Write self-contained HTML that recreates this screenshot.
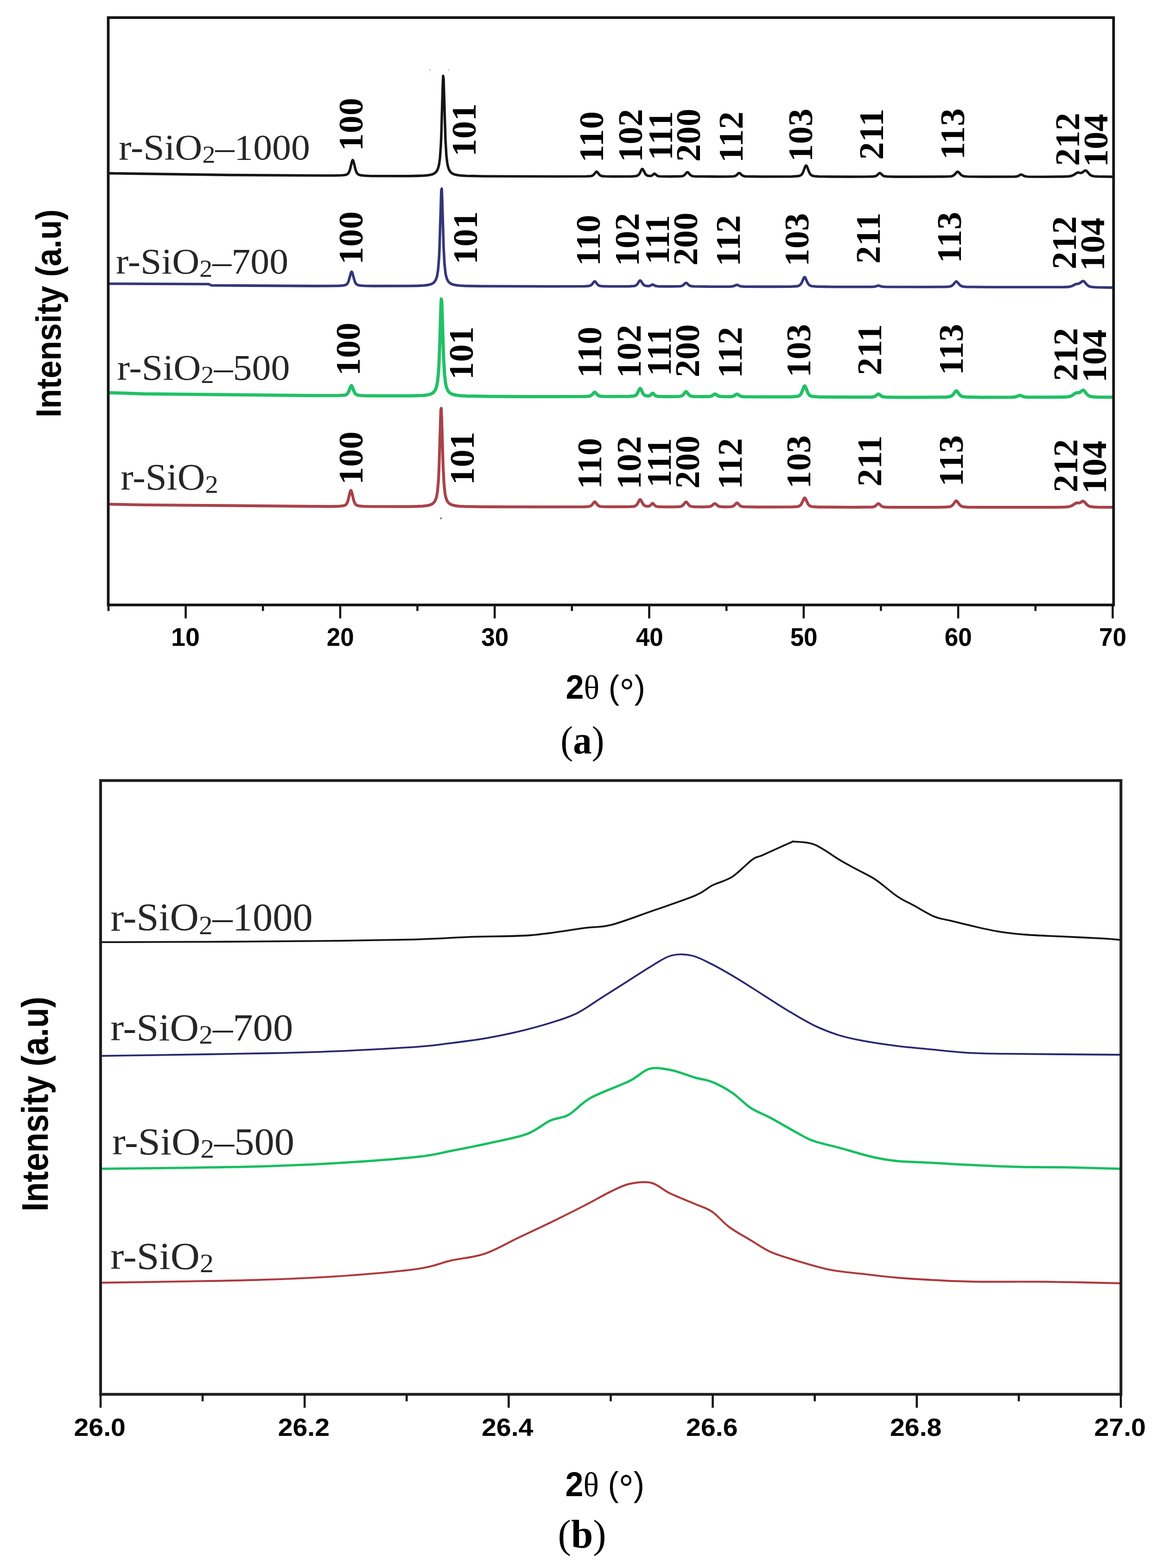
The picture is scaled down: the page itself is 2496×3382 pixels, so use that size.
<!DOCTYPE html><html><head><meta charset="utf-8"><title>XRD patterns of r-SiO2 samples</title><style>
html,body{margin:0;padding:0;background:#fff;}svg{display:block;}
.sans{font-family:"Liberation Sans",Arial,sans-serif;font-weight:bold;}
.serif{font-family:"Liberation Serif","Times New Roman",serif;}
</style></head><body>
<svg width="2496" height="3382" viewBox="0 0 2496 3382">
<rect width="2496" height="3382" fill="#fff"/>
<path d="M236.0 373.8 L500.0 377.5 L694.0 378.6 L722.0 378.5 L737.0 378.1 L743.0 377.6 L747.0 376.8 L750.0 375.2 L752.0 373.0 L754.0 368.8 L755.0 365.9 L759.0 349.5 L760.0 346.5 L761.0 345.3 L762.0 346.5 L763.0 349.6 L767.0 366.0 L769.0 371.4 L770.0 373.2 L772.0 375.5 L774.0 376.8 L778.0 378.0 L786.0 378.9 L800.0 379.6 L882.0 379.7 L902.0 379.3 L915.0 378.8 L924.0 377.9 L931.0 376.5 L935.0 375.1 L938.0 373.3 L941.0 370.5 L943.0 367.6 L945.0 363.1 L947.0 355.8 L949.0 342.1 L951.0 314.5 L952.0 291.7 L955.0 186.4 L956.0 163.7 L957.0 169.8 L961.0 301.7 L963.0 335.8 L965.0 352.6 L966.0 357.6 L968.0 364.2 L970.0 368.3 L972.0 371.0 L975.0 373.7 L978.0 375.3 L982.0 376.7 L988.0 377.9 L996.0 378.8 L1007.0 379.4 L1043.0 380.1 L1197.0 380.6 L1265.0 380.4 L1274.0 379.9 L1278.0 378.8 L1281.0 376.6 L1285.0 371.6 L1286.0 370.6 L1287.0 370.3 L1288.0 370.6 L1289.0 371.6 L1292.0 375.5 L1294.0 377.6 L1297.0 379.3 L1300.0 380.0 L1307.0 380.4 L1320.0 380.7 L1362.0 380.5 L1371.0 379.9 L1374.0 379.2 L1376.0 378.3 L1378.0 376.7 L1380.0 373.9 L1384.0 365.9 L1385.0 364.7 L1386.0 364.4 L1387.0 365.3 L1388.0 367.0 L1392.0 374.8 L1394.0 377.2 L1397.0 378.9 L1401.0 379.6 L1404.0 379.4 L1406.0 378.8 L1408.0 377.5 L1411.0 374.9 L1412.0 374.6 L1413.0 375.0 L1418.0 379.1 L1420.0 379.9 L1423.0 380.4 L1447.0 380.8 L1469.0 380.3 L1472.0 379.9 L1475.0 378.7 L1477.0 377.2 L1481.0 372.6 L1482.0 371.7 L1483.0 371.4 L1484.0 371.7 L1485.0 372.6 L1489.0 377.2 L1491.0 378.7 L1495.0 380.1 L1501.0 380.6 L1552.0 381.0 L1572.0 380.8 L1581.0 380.5 L1584.0 380.1 L1587.0 379.0 L1589.0 377.7 L1593.0 373.8 L1594.0 373.2 L1595.0 373.1 L1596.0 373.5 L1600.0 377.3 L1602.0 378.8 L1605.0 380.0 L1609.0 380.5 L1643.0 381.0 L1708.0 380.7 L1722.0 379.8 L1725.0 379.1 L1728.0 377.7 L1730.0 375.7 L1732.0 372.5 L1737.0 359.4 L1738.0 357.6 L1739.0 356.9 L1740.0 357.6 L1741.0 359.4 L1746.0 372.5 L1749.0 376.8 L1752.0 378.8 L1755.0 379.6 L1760.0 380.3 L1767.0 380.7 L1788.0 381.0 L1831.0 381.2 L1868.0 381.1 L1883.0 380.8 L1887.0 380.3 L1890.0 379.4 L1892.0 378.1 L1896.0 374.3 L1897.0 373.5 L1898.0 373.3 L1899.0 373.5 L1900.0 374.3 L1904.0 378.1 L1906.0 379.4 L1909.0 380.3 L1914.0 380.8 L1930.0 381.2 L1970.0 381.3 L2043.0 380.9 L2051.0 380.4 L2054.0 379.8 L2056.0 379.0 L2059.0 376.9 L2064.0 371.4 L2065.0 370.6 L2066.0 370.4 L2067.0 370.6 L2068.0 371.4 L2073.0 376.9 L2076.0 379.0 L2080.0 380.3 L2087.0 380.9 L2126.0 381.3 L2188.0 381.1 L2192.0 380.8 L2195.0 380.2 L2197.0 379.4 L2201.0 377.0 L2203.0 376.4 L2205.0 377.0 L2209.0 379.4 L2211.0 380.2 L2217.0 381.1 L2250.0 381.4 L2293.0 381.0 L2305.0 380.5 L2311.0 379.5 L2316.0 377.5 L2322.0 373.5 L2324.0 372.5 L2326.0 372.2 L2331.0 373.1 L2333.0 372.9 L2336.0 371.3 L2340.0 368.0 L2342.0 367.5 L2344.0 368.6 L2351.0 376.5 L2354.0 378.5 L2357.0 379.6 L2362.0 380.4 L2369.0 380.8 L2400.0 381.3" fill="none" stroke="#151515" stroke-width="5.4" stroke-linejoin="round"/>
<path d="M236.0 612.0 L450.0 612.8 L456.0 615.5 L680.0 616.9 L716.0 616.8 L733.0 616.4 L740.0 615.8 L744.0 615.1 L747.0 613.8 L749.0 612.1 L751.0 608.9 L752.0 606.6 L757.0 588.6 L758.0 586.5 L759.0 586.2 L760.0 588.1 L765.0 606.0 L767.0 610.5 L768.0 611.9 L770.0 613.7 L772.0 614.7 L776.0 615.7 L786.0 616.5 L804.0 616.9 L886.0 616.8 L902.0 616.4 L914.0 615.8 L922.0 614.9 L928.0 613.6 L932.0 612.0 L935.0 610.1 L938.0 607.0 L940.0 603.7 L942.0 598.6 L943.0 594.9 L945.0 582.8 L947.0 558.5 L948.0 538.4 L952.0 409.9 L953.0 406.9 L954.0 431.4 L957.0 533.5 L959.0 570.4 L961.0 588.6 L962.0 594.0 L964.0 601.0 L966.0 605.3 L968.0 608.1 L971.0 610.8 L974.0 612.5 L978.0 613.9 L984.0 615.1 L992.0 616.0 L1003.0 616.6 L1041.0 617.3 L1190.0 617.7 L1261.0 617.5 L1270.0 616.9 L1274.0 615.8 L1277.0 613.5 L1281.0 608.2 L1282.0 607.2 L1283.0 606.9 L1284.0 607.2 L1285.0 608.2 L1288.0 612.4 L1290.0 614.5 L1293.0 616.3 L1296.0 617.0 L1302.0 617.4 L1314.0 617.7 L1357.0 617.6 L1367.0 617.0 L1370.0 616.4 L1372.0 615.5 L1375.0 612.8 L1379.0 606.5 L1380.0 605.4 L1381.0 604.9 L1382.0 605.4 L1383.0 606.5 L1387.0 612.8 L1389.0 614.8 L1392.0 616.3 L1397.0 617.0 L1400.0 616.9 L1402.0 616.5 L1407.0 613.9 L1408.0 613.8 L1409.0 614.0 L1414.0 616.8 L1419.0 617.6 L1446.0 617.9 L1466.0 617.5 L1469.0 617.2 L1472.0 616.2 L1474.0 615.0 L1478.0 611.1 L1479.0 610.4 L1480.0 610.1 L1481.0 610.4 L1482.0 611.1 L1486.0 615.0 L1488.0 616.3 L1492.0 617.4 L1498.0 617.8 L1532.0 618.2 L1575.0 618.1 L1579.0 617.8 L1582.0 617.3 L1589.0 614.4 L1591.0 614.6 L1595.0 616.6 L1598.0 617.5 L1605.0 618.1 L1660.0 618.4 L1705.0 618.2 L1719.0 617.4 L1722.0 616.8 L1725.0 615.4 L1728.0 612.3 L1730.0 608.8 L1734.0 599.4 L1735.0 598.0 L1736.0 597.6 L1737.0 598.5 L1738.0 600.2 L1741.0 607.5 L1743.0 611.4 L1746.0 615.0 L1749.0 616.6 L1752.0 617.3 L1764.0 618.2 L1802.0 618.7 L1879.0 618.7 L1887.0 618.2 L1895.0 615.9 L1903.0 618.2 L1911.0 618.8 L2002.0 619.0 L2040.0 618.7 L2048.0 618.1 L2051.0 617.4 L2053.0 616.6 L2056.0 614.3 L2061.0 608.3 L2062.0 607.5 L2063.0 607.2 L2064.0 607.5 L2065.0 608.3 L2070.0 614.3 L2073.0 616.6 L2077.0 618.0 L2084.0 618.7 L2132.0 619.2 L2294.0 619.3 L2304.0 618.9 L2310.0 617.8 L2314.0 616.3 L2321.0 612.7 L2327.0 611.8 L2329.0 611.1 L2335.0 606.6 L2337.0 606.1 L2339.0 607.2 L2344.0 613.2 L2347.0 616.0 L2350.0 617.7 L2353.0 618.6 L2358.0 619.3 L2367.0 619.8 L2400.0 620.4" fill="none" stroke="#34367a" stroke-width="5.6" stroke-linejoin="round"/>
<path d="M236.0 847.0 L310.0 849.5 L680.0 853.3 L732.0 853.1 L743.0 852.3 L746.0 851.6 L748.0 850.5 L750.0 848.5 L751.0 847.0 L753.0 842.7 L756.0 834.5 L757.0 832.5 L758.0 831.7 L759.0 832.5 L760.0 834.5 L764.0 845.1 L766.0 848.6 L767.0 849.7 L769.0 851.2 L771.0 852.0 L775.0 852.7 L785.0 853.4 L804.0 853.7 L885.0 853.8 L912.0 853.0 L920.0 852.1 L926.0 850.9 L930.0 849.6 L933.0 848.0 L936.0 845.4 L938.0 842.8 L940.0 839.0 L942.0 833.0 L944.0 822.5 L946.0 802.2 L947.0 785.6 L949.0 733.7 L951.0 665.0 L952.0 645.0 L953.0 650.4 L957.0 772.9 L959.0 807.5 L961.0 825.2 L962.0 830.6 L964.0 837.6 L966.0 842.0 L968.0 844.9 L971.0 847.7 L975.0 850.0 L979.0 851.3 L985.0 852.5 L994.0 853.5 L1007.0 854.2 L1055.0 855.0 L1129.0 855.4 L1260.0 855.2 L1269.0 854.8 L1274.0 853.7 L1277.0 851.7 L1281.0 847.1 L1282.0 846.3 L1283.0 845.9 L1284.0 846.3 L1285.0 847.1 L1288.0 850.7 L1290.0 852.5 L1293.0 854.0 L1296.0 854.7 L1303.0 855.1 L1316.0 855.3 L1357.0 855.0 L1367.0 854.2 L1370.0 853.4 L1372.0 852.2 L1375.0 848.5 L1379.0 840.1 L1380.0 838.5 L1381.0 837.9 L1382.0 838.5 L1383.0 840.1 L1387.0 848.5 L1389.0 851.2 L1392.0 853.2 L1396.0 854.0 L1399.0 854.0 L1402.0 853.1 L1404.0 851.6 L1407.0 848.5 L1408.0 848.2 L1409.0 848.6 L1412.0 851.8 L1414.0 853.4 L1416.0 854.3 L1419.0 854.9 L1428.0 855.3 L1444.0 855.4 L1458.0 855.3 L1466.0 854.9 L1469.0 854.4 L1472.0 853.1 L1474.0 851.4 L1478.0 846.1 L1479.0 845.1 L1480.0 844.7 L1481.0 845.1 L1482.0 846.1 L1486.0 851.4 L1488.0 853.1 L1490.0 854.1 L1492.0 854.7 L1498.0 855.3 L1518.0 855.6 L1531.0 855.2 L1535.0 854.2 L1537.0 853.2 L1541.0 850.3 L1543.0 849.9 L1544.0 850.3 L1549.0 853.8 L1553.0 855.1 L1562.0 855.6 L1576.0 855.5 L1579.0 855.2 L1582.0 854.5 L1584.0 853.6 L1588.0 850.7 L1590.0 850.0 L1592.0 850.7 L1596.0 853.6 L1598.0 854.6 L1601.0 855.3 L1605.0 855.7 L1653.0 856.1 L1706.0 855.9 L1719.0 855.0 L1722.0 854.4 L1725.0 852.9 L1727.0 851.0 L1729.0 847.8 L1734.0 835.0 L1735.0 833.1 L1736.0 832.4 L1737.0 833.1 L1738.0 835.0 L1743.0 847.8 L1745.0 851.0 L1747.0 853.0 L1750.0 854.4 L1753.0 855.1 L1765.0 856.0 L1826.0 856.6 L1865.0 856.6 L1880.0 856.4 L1884.0 856.0 L1887.0 855.2 L1889.0 854.1 L1893.0 850.7 L1895.0 849.8 L1897.0 850.7 L1901.0 854.1 L1903.0 855.2 L1906.0 856.1 L1911.0 856.5 L1933.0 856.9 L1977.0 856.9 L2021.0 856.8 L2040.0 856.4 L2048.0 855.7 L2051.0 854.9 L2053.0 853.9 L2056.0 851.2 L2061.0 844.2 L2062.0 843.3 L2063.0 843.0 L2064.0 843.3 L2065.0 844.2 L2070.0 851.2 L2073.0 853.9 L2077.0 855.5 L2084.0 856.3 L2117.0 856.9 L2183.0 856.7 L2191.0 855.9 L2198.0 853.3 L2200.0 852.9 L2202.0 853.3 L2209.0 855.9 L2216.0 856.6 L2252.0 856.8 L2291.0 856.5 L2303.0 855.9 L2309.0 854.7 L2313.0 852.9 L2321.0 847.6 L2323.0 847.1 L2327.0 847.0 L2329.0 846.5 L2331.0 845.3 L2335.0 842.1 L2337.0 841.6 L2339.0 842.9 L2344.0 849.4 L2347.0 852.4 L2350.0 854.2 L2353.0 855.2 L2358.0 855.9 L2367.0 856.4 L2400.0 856.8" fill="none" stroke="#22c066" stroke-width="7" stroke-linejoin="round"/>
<path d="M236.0 1087.5 L310.0 1089.0 L673.0 1092.1 L713.0 1092.3 L732.0 1091.9 L739.0 1091.2 L743.0 1090.3 L746.0 1088.7 L748.0 1086.3 L750.0 1082.1 L751.0 1079.0 L755.0 1062.1 L756.0 1059.0 L757.0 1057.8 L758.0 1059.0 L759.0 1062.1 L763.0 1079.0 L765.0 1084.5 L766.0 1086.4 L768.0 1088.7 L770.0 1090.0 L774.0 1091.1 L783.0 1092.1 L800.0 1092.5 L882.0 1092.6 L900.0 1092.2 L912.0 1091.6 L921.0 1090.6 L927.0 1089.3 L931.0 1087.7 L934.0 1085.8 L937.0 1082.7 L939.0 1079.4 L941.0 1074.2 L942.0 1070.4 L944.0 1058.2 L946.0 1033.7 L947.0 1013.4 L951.0 883.7 L952.0 880.7 L953.0 905.4 L956.0 1008.5 L958.0 1045.7 L960.0 1064.1 L961.0 1069.6 L963.0 1076.6 L965.0 1080.9 L967.0 1083.8 L970.0 1086.5 L973.0 1088.2 L977.0 1089.6 L983.0 1090.9 L991.0 1091.8 L1003.0 1092.4 L1043.0 1093.1 L1172.0 1093.4 L1261.0 1093.1 L1270.0 1092.6 L1274.0 1091.4 L1277.0 1089.1 L1281.0 1083.8 L1282.0 1082.8 L1283.0 1082.4 L1284.0 1082.8 L1285.0 1083.8 L1288.0 1087.9 L1290.0 1090.1 L1293.0 1091.8 L1296.0 1092.5 L1303.0 1093.0 L1315.0 1093.2 L1357.0 1093.0 L1367.0 1092.3 L1370.0 1091.5 L1372.0 1090.4 L1375.0 1087.1 L1379.0 1079.4 L1380.0 1077.9 L1381.0 1077.4 L1382.0 1077.9 L1383.0 1079.3 L1387.0 1087.0 L1389.0 1089.5 L1392.0 1091.3 L1396.0 1092.0 L1399.0 1092.0 L1402.0 1090.9 L1404.0 1089.3 L1407.0 1086.0 L1408.0 1085.7 L1409.0 1086.1 L1412.0 1089.5 L1414.0 1091.3 L1416.0 1092.2 L1419.0 1092.8 L1428.0 1093.2 L1444.0 1093.3 L1458.0 1093.2 L1466.0 1092.8 L1469.0 1092.3 L1472.0 1090.9 L1474.0 1089.2 L1478.0 1083.9 L1479.0 1082.9 L1480.0 1082.6 L1481.0 1082.9 L1482.0 1083.9 L1486.0 1089.2 L1488.0 1091.0 L1490.0 1092.0 L1492.0 1092.5 L1498.0 1093.1 L1519.0 1093.3 L1531.0 1092.7 L1535.0 1091.3 L1540.0 1087.0 L1542.0 1086.1 L1544.0 1087.0 L1549.0 1091.3 L1553.0 1092.7 L1563.0 1093.3 L1576.0 1093.0 L1579.0 1092.6 L1582.0 1091.5 L1584.0 1090.1 L1588.0 1085.8 L1589.0 1085.0 L1590.0 1084.7 L1591.0 1085.0 L1592.0 1085.8 L1596.0 1090.2 L1598.0 1091.6 L1601.0 1092.7 L1605.0 1093.2 L1638.0 1093.7 L1706.0 1093.5 L1719.0 1092.8 L1722.0 1092.3 L1725.0 1091.1 L1727.0 1089.5 L1729.0 1086.8 L1734.0 1076.1 L1735.0 1074.5 L1736.0 1074.0 L1737.0 1074.6 L1738.0 1076.1 L1743.0 1086.8 L1745.0 1089.5 L1747.0 1091.1 L1750.0 1092.3 L1753.0 1092.9 L1765.0 1093.6 L1839.0 1094.1 L1880.0 1093.7 L1884.0 1093.3 L1887.0 1092.3 L1889.0 1091.0 L1893.0 1087.2 L1894.0 1086.5 L1895.0 1086.2 L1896.0 1086.5 L1897.0 1087.2 L1901.0 1091.1 L1903.0 1092.3 L1906.0 1093.3 L1911.0 1093.8 L1930.0 1094.2 L1976.0 1094.2 L2021.0 1094.1 L2040.0 1093.7 L2048.0 1093.0 L2051.0 1092.2 L2053.0 1091.2 L2056.0 1088.5 L2061.0 1081.5 L2062.0 1080.6 L2063.0 1080.3 L2064.0 1080.6 L2065.0 1081.5 L2069.0 1087.3 L2071.0 1089.6 L2074.0 1091.8 L2076.0 1092.6 L2079.0 1093.2 L2087.0 1093.8 L2119.0 1094.2 L2224.0 1094.2 L2276.0 1094.1 L2298.0 1093.6 L2304.0 1093.1 L2309.0 1092.0 L2313.0 1090.3 L2321.0 1085.1 L2323.0 1084.7 L2327.0 1084.9 L2329.0 1084.6 L2331.0 1083.8 L2334.0 1081.8 L2336.0 1080.9 L2337.0 1080.9 L2339.0 1082.1 L2344.0 1087.7 L2347.0 1090.3 L2350.0 1091.9 L2353.0 1092.7 L2358.0 1093.3 L2367.0 1093.8 L2400.0 1094.2" fill="none" stroke="#a8434a" stroke-width="6.2" stroke-linejoin="round"/>
<rect x="233.5" y="38" width="2168.8" height="1266.8" fill="none" stroke="#141414" stroke-width="5.8"/>
<line x1="234.0" y1="1304.8" x2="234.0" y2="1317.8" stroke="#151515" stroke-width="4.6"/>
<line x1="400.6" y1="1304.8" x2="400.6" y2="1333.8" stroke="#151515" stroke-width="4.6"/>
<line x1="567.2" y1="1304.8" x2="567.2" y2="1317.8" stroke="#151515" stroke-width="4.6"/>
<line x1="733.9" y1="1304.8" x2="733.9" y2="1333.8" stroke="#151515" stroke-width="4.6"/>
<line x1="900.5" y1="1304.8" x2="900.5" y2="1317.8" stroke="#151515" stroke-width="4.6"/>
<line x1="1067.2" y1="1304.8" x2="1067.2" y2="1333.8" stroke="#151515" stroke-width="4.6"/>
<line x1="1233.8" y1="1304.8" x2="1233.8" y2="1317.8" stroke="#151515" stroke-width="4.6"/>
<line x1="1400.5" y1="1304.8" x2="1400.5" y2="1333.8" stroke="#151515" stroke-width="4.6"/>
<line x1="1567.2" y1="1304.8" x2="1567.2" y2="1317.8" stroke="#151515" stroke-width="4.6"/>
<line x1="1733.8" y1="1304.8" x2="1733.8" y2="1333.8" stroke="#151515" stroke-width="4.6"/>
<line x1="1900.4" y1="1304.8" x2="1900.4" y2="1317.8" stroke="#151515" stroke-width="4.6"/>
<line x1="2067.1" y1="1304.8" x2="2067.1" y2="1333.8" stroke="#151515" stroke-width="4.6"/>
<line x1="2233.8" y1="1304.8" x2="2233.8" y2="1317.8" stroke="#151515" stroke-width="4.6"/>
<line x1="2400.4" y1="1304.8" x2="2400.4" y2="1333.8" stroke="#151515" stroke-width="4.6"/>
<path d="M217.0 2032.2 C255.8 2032.0 372.3 2031.7 450.0 2031.3 C527.7 2030.9 608.8 2030.5 683.0 2029.7 C757.2 2028.9 838.9 2027.8 895.0 2026.3 C951.1 2024.8 977.9 2022.1 1019.9 2020.6 C1061.9 2019.0 1106.5 2020.2 1147.0 2017.0 C1187.5 2013.8 1234.5 2005.0 1263.0 2001.4 C1291.5 1997.8 1293.5 2001.4 1317.7 1995.2 C1342.0 1989.0 1378.1 1974.9 1408.5 1964.3 C1438.9 1953.7 1478.7 1940.7 1500.0 1931.6 C1521.3 1922.5 1523.0 1916.7 1536.3 1909.9 C1549.6 1903.1 1565.4 1900.4 1579.9 1891.0 C1594.4 1881.6 1612.6 1861.3 1623.5 1853.6 C1634.4 1845.8 1632.0 1850.4 1645.3 1844.5 C1658.6 1838.6 1691.9 1823.1 1703.4 1818.3 C1714.9 1813.5 1705.2 1814.8 1714.3 1815.4 C1723.4 1816.0 1741.6 1815.3 1757.9 1822.0 C1774.2 1828.7 1797.3 1846.5 1812.4 1855.4 C1827.5 1864.3 1836.0 1868.5 1848.7 1875.4 C1861.4 1882.4 1874.1 1887.4 1888.6 1897.1 C1903.1 1906.8 1921.9 1924.1 1935.8 1933.5 C1949.7 1942.9 1958.9 1946.2 1972.2 1953.4 C1985.5 1960.7 2002.4 1971.5 2015.7 1977.0 C2029.0 1982.5 2039.6 1983.0 2052.0 1986.1 C2064.4 1989.2 2073.4 1991.6 2090.0 1995.4 C2106.6 1999.2 2131.1 2005.4 2151.7 2008.8 C2172.3 2012.2 2189.5 2014.1 2213.5 2016.0 C2237.5 2017.9 2268.4 2018.7 2295.8 2020.1 C2323.2 2021.5 2357.6 2023.0 2378.0 2024.2 C2398.4 2025.4 2411.3 2026.8 2418.0 2027.3" fill="none" stroke="#141414" stroke-width="3.8" stroke-linejoin="round"/>
<path d="M217.0 2277.5 C235.3 2277.2 264.8 2276.8 327.0 2275.8 C389.2 2274.8 523.6 2272.9 590.0 2271.5 C656.4 2270.1 673.8 2269.6 725.5 2267.3 C777.2 2265.0 858.8 2260.8 900.0 2257.9 C941.2 2255.0 948.4 2252.9 972.6 2249.9 C996.8 2246.9 1021.1 2243.9 1045.3 2239.8 C1069.5 2235.7 1093.7 2230.9 1117.9 2225.2 C1142.1 2219.4 1169.4 2212.0 1190.6 2205.3 C1211.8 2198.7 1226.8 2194.4 1245.0 2185.3 C1263.2 2176.2 1281.3 2162.3 1299.5 2150.8 C1317.7 2139.3 1335.8 2127.8 1354.0 2116.3 C1372.2 2104.8 1392.8 2091.0 1408.5 2081.8 C1424.2 2072.6 1434.5 2064.5 1448.4 2061.0 C1462.3 2057.5 1477.3 2057.8 1492.0 2061.0 C1506.7 2064.2 1519.8 2071.7 1536.3 2080.0 C1552.8 2088.3 1572.6 2099.9 1590.8 2110.8 C1609.0 2121.7 1627.1 2133.8 1645.3 2145.3 C1663.5 2156.8 1681.6 2168.9 1699.8 2179.8 C1718.0 2190.7 1736.0 2201.9 1754.2 2210.7 C1772.4 2219.5 1790.5 2226.8 1808.7 2232.5 C1826.9 2238.2 1842.0 2241.3 1863.2 2245.2 C1884.4 2249.1 1911.6 2253.1 1935.8 2256.1 C1960.0 2259.1 1982.8 2260.9 2008.5 2263.4 C2034.2 2265.9 2062.7 2269.3 2090.0 2270.9 C2117.3 2272.5 2117.6 2272.2 2172.3 2272.9 C2227.0 2273.6 2377.1 2274.7 2418.0 2275.0" fill="none" stroke="#28286e" stroke-width="3.8" stroke-linejoin="round"/>
<path d="M217.0 2521.0 C245.2 2520.7 330.0 2519.8 386.5 2519.0 C443.0 2518.2 499.5 2517.7 556.0 2516.0 C612.5 2514.3 668.2 2512.3 725.5 2508.8 C782.8 2505.3 858.8 2499.6 900.0 2495.2 C941.2 2490.8 947.2 2487.3 972.6 2482.5 C998.0 2477.7 1025.2 2472.2 1052.5 2466.2 C1079.8 2460.1 1113.7 2454.4 1136.1 2446.2 C1158.5 2438.0 1171.8 2424.1 1186.9 2417.1 C1202.0 2410.1 1212.4 2412.6 1226.9 2404.4 C1241.4 2396.2 1252.3 2380.2 1274.1 2368.1 C1295.9 2356.0 1336.4 2342.3 1357.6 2331.8 C1378.8 2321.3 1386.1 2309.2 1401.2 2305.3 C1416.3 2301.4 1431.9 2305.0 1448.4 2308.2 C1464.9 2311.4 1485.3 2320.3 1500.0 2324.5 C1514.7 2328.7 1523.0 2328.2 1536.3 2333.6 C1549.6 2339.0 1566.0 2347.8 1579.9 2357.2 C1593.8 2366.6 1606.0 2380.8 1619.9 2389.9 C1633.8 2399.0 1647.1 2402.9 1663.4 2411.7 C1679.7 2420.5 1702.8 2434.3 1717.9 2442.5 C1733.0 2450.7 1739.1 2455.2 1754.2 2460.7 C1769.3 2466.1 1787.5 2469.4 1808.7 2475.2 C1829.9 2480.9 1860.2 2490.3 1881.4 2495.2 C1902.6 2500.0 1914.6 2502.2 1935.8 2504.3 C1957.0 2506.4 1982.8 2506.5 2008.5 2507.9 C2034.2 2509.3 2059.3 2511.1 2090.0 2512.6 C2120.7 2514.1 2158.6 2515.9 2192.9 2516.8 C2227.2 2517.7 2258.3 2517.1 2295.8 2517.8 C2333.3 2518.5 2397.6 2520.4 2418.0 2520.9" fill="none" stroke="#18bf60" stroke-width="5" stroke-linejoin="round"/>
<path d="M217.0 2766.6 C245.2 2766.2 330.0 2765.0 386.5 2764.0 C443.0 2763.0 499.5 2762.5 556.0 2760.7 C612.5 2758.9 668.2 2756.9 725.5 2753.0 C782.8 2749.1 858.8 2742.7 900.0 2737.0 C941.2 2731.3 948.4 2724.3 972.6 2718.9 C996.8 2713.5 1021.1 2712.5 1045.3 2704.3 C1069.5 2696.1 1093.7 2681.3 1117.9 2669.8 C1142.1 2658.3 1166.4 2647.1 1190.6 2635.3 C1214.8 2623.5 1242.0 2609.9 1263.2 2599.0 C1284.4 2588.1 1302.0 2577.6 1317.7 2570.0 C1333.4 2562.4 1343.1 2556.8 1357.6 2553.6 C1372.1 2550.4 1390.3 2547.8 1404.8 2551.1 C1419.3 2554.4 1428.9 2565.9 1444.8 2573.6 C1460.7 2581.3 1484.8 2590.5 1500.0 2597.2 C1515.2 2603.8 1524.2 2605.3 1536.3 2613.5 C1548.4 2621.7 1558.7 2635.9 1572.6 2646.2 C1586.5 2656.5 1604.8 2666.2 1619.9 2675.3 C1635.0 2684.4 1647.1 2693.4 1663.4 2700.7 C1679.7 2708.0 1696.7 2712.6 1717.9 2718.9 C1739.1 2725.2 1766.4 2734.0 1790.6 2738.8 C1814.8 2743.6 1839.0 2745.1 1863.2 2747.9 C1887.4 2750.8 1911.6 2753.8 1935.8 2755.9 C1960.0 2758.0 1981.1 2759.2 2008.5 2760.6 C2035.9 2762.0 2059.0 2763.6 2100.0 2764.3 C2141.0 2765.0 2201.6 2764.1 2254.6 2764.7 C2307.6 2765.3 2390.8 2767.3 2418.0 2767.8" fill="none" stroke="#ad3a3c" stroke-width="4.2" stroke-linejoin="round"/>
<rect x="217" y="1683.5" width="2201.2" height="1323.9" fill="none" stroke="#1e1e1e" stroke-width="6"/>
<line x1="217.0" y1="3007.4" x2="217.0" y2="3036.4" stroke="#151515" stroke-width="4.6"/>
<line x1="437.1" y1="3007.4" x2="437.1" y2="3022.4" stroke="#151515" stroke-width="4.6"/>
<line x1="657.2" y1="3007.4" x2="657.2" y2="3036.4" stroke="#151515" stroke-width="4.6"/>
<line x1="877.3" y1="3007.4" x2="877.3" y2="3022.4" stroke="#151515" stroke-width="4.6"/>
<line x1="1097.4" y1="3007.4" x2="1097.4" y2="3036.4" stroke="#151515" stroke-width="4.6"/>
<line x1="1317.5" y1="3007.4" x2="1317.5" y2="3022.4" stroke="#151515" stroke-width="4.6"/>
<line x1="1537.6" y1="3007.4" x2="1537.6" y2="3036.4" stroke="#151515" stroke-width="4.6"/>
<line x1="1757.7" y1="3007.4" x2="1757.7" y2="3022.4" stroke="#151515" stroke-width="4.6"/>
<line x1="1977.8" y1="3007.4" x2="1977.8" y2="3036.4" stroke="#151515" stroke-width="4.6"/>
<line x1="2197.9" y1="3007.4" x2="2197.9" y2="3022.4" stroke="#151515" stroke-width="4.6"/>
<line x1="2418.0" y1="3007.4" x2="2418.0" y2="3036.4" stroke="#151515" stroke-width="4.6"/>
<circle cx="951" cy="1118" r="2" fill="#7a6a6a"/><circle cx="927" cy="150.5" r="1.6" fill="#f5b060"/><circle cx="968" cy="150.5" r="1.6" fill="#f5b060"/>
<g transform="translate(256.36 343.50) scale(0.8176 0.7803)"><text class="serif" font-size="100" fill="#262626">r-SiO<tspan font-size="68.5" dy="9">2</tspan><tspan dy="-9">–1000</tspan></text></g>
<g transform="translate(250.06 589.60) scale(0.8187 0.7800)"><text class="serif" font-size="100" fill="#262626">r-SiO<tspan font-size="68.5" dy="9">2</tspan><tspan dy="-9">–700</tspan></text></g>
<g transform="translate(252.86 819.00) scale(0.8198 0.7831)"><text class="serif" font-size="100" fill="#262626">r-SiO<tspan font-size="68.5" dy="9">2</tspan><tspan dy="-9">–500</tspan></text></g>
<g transform="translate(260.35 1056.00) scale(0.8273 0.8000)"><text class="serif" font-size="100" fill="#262626">r-SiO<tspan font-size="68.5" dy="9">2</tspan></text></g>
<g transform="translate(238.57 2007.20) scale(0.8647 0.8364)"><text class="serif" font-size="100" fill="#262626">r-SiO<tspan font-size="68.5" dy="9">2</tspan><tspan dy="-9">–1000</tspan></text></g>
<g transform="translate(238.27 2243.80) scale(0.8673 0.8354)"><text class="serif" font-size="100" fill="#262626">r-SiO<tspan font-size="68.5" dy="9">2</tspan><tspan dy="-9">–700</tspan></text></g>
<g transform="translate(241.97 2489.60) scale(0.8648 0.8215)"><text class="serif" font-size="100" fill="#262626">r-SiO<tspan font-size="68.5" dy="9">2</tspan><tspan dy="-9">–500</tspan></text></g>
<g transform="translate(238.25 2736.80) scale(0.8755 0.8354)"><text class="serif" font-size="100" fill="#262626">r-SiO<tspan font-size="68.5" dy="9">2</tspan></text></g>
<g transform="translate(369.09 1393.04) scale(0.5577 0.5577)"><text class="sans" font-size="100">10</text></g>
<g transform="translate(704.76 1393.04) scale(0.5299 0.5577)"><text class="sans" font-size="100">20</text></g>
<g transform="translate(1038.32 1393.04) scale(0.5299 0.5577)"><text class="sans" font-size="100">30</text></g>
<g transform="translate(1371.89 1393.04) scale(0.5299 0.5577)"><text class="sans" font-size="100">40</text></g>
<g transform="translate(1704.66 1393.04) scale(0.5299 0.5577)"><text class="sans" font-size="100">50</text></g>
<g transform="translate(2037.69 1393.04) scale(0.5299 0.5577)"><text class="sans" font-size="100">60</text></g>
<g transform="translate(2370.99 1393.04) scale(0.5299 0.5577)"><text class="sans" font-size="100">70</text></g>
<g transform="translate(159.45 3097.46) scale(0.5727 0.5352)"><text class="sans" font-size="100">26.0</text></g>
<g transform="translate(599.65 3097.46) scale(0.5727 0.5352)"><text class="sans" font-size="100">26.2</text></g>
<g transform="translate(1038.99 3097.46) scale(0.5727 0.5352)"><text class="sans" font-size="100">26.4</text></g>
<g transform="translate(1480.05 3097.46) scale(0.5727 0.5352)"><text class="sans" font-size="100">26.6</text></g>
<g transform="translate(1919.96 3097.46) scale(0.5727 0.5352)"><text class="sans" font-size="100">26.8</text></g>
<g transform="translate(2360.45 3097.46) scale(0.5727 0.5352)"><text class="sans" font-size="100">27.0</text></g>
<g transform="translate(1220.49 1507.00) scale(0.7034 0.7143)"><text class="sans" font-size="100"><tspan>2</tspan><tspan font-weight="normal" font-family="'Liberation Serif',serif">θ</tspan><tspan font-weight="normal"> (</tspan><tspan font-weight="normal" font-size="115" dy="19">°</tspan><tspan font-weight="normal" dy="-19">)</tspan></text></g>
<g transform="translate(1219.60 3227.00) scale(0.6991 0.7371)"><text class="sans" font-size="100"><tspan>2</tspan><tspan font-weight="normal" font-family="'Liberation Serif',serif">θ</tspan><tspan font-weight="normal"> (</tspan><tspan font-weight="normal" font-size="115" dy="19">°</tspan><tspan font-weight="normal" dy="-19">)</tspan></text></g>
<g transform="translate(131.20 900.33) rotate(-90) scale(0.6904 0.7522)"><text class="sans" font-size="100">Intensity (a.u)</text></g>
<g transform="translate(103.20 2612.99) rotate(-90) scale(0.7127 0.8058)"><text class="sans" font-size="100">Intensity (a.u)</text></g>
<g transform="translate(1209.37 1625.03) scale(0.8074 0.8556)"><text class="serif" font-size="100"><tspan>(</tspan><tspan font-weight="bold">a</tspan><tspan>)</tspan></text></g>
<g transform="translate(1203.60 3337.80) scale(0.8509 0.8667)"><text class="serif" font-size="100"><tspan>(</tspan><tspan font-weight="bold">b</tspan><tspan>)</tspan></text></g>
<g transform="translate(781.93 325.71) rotate(-90) scale(0.7650 0.7400)"><text class="serif" font-weight="bold" font-size="100">100</text></g>
<g transform="translate(1026.18 337.52) rotate(-90) scale(0.7650 0.7400)"><text class="serif" font-weight="bold" font-size="100">101</text></g>
<g transform="translate(1300.68 350.49) rotate(-90) scale(0.7650 0.7400)"><text class="serif" font-weight="bold" font-size="100">110</text></g>
<g transform="translate(1385.18 349.65) rotate(-90) scale(0.7650 0.7400)"><text class="serif" font-weight="bold" font-size="100">102</text></g>
<g transform="translate(1450.42 345.81) rotate(-90) scale(0.7650 0.7400)"><text class="serif" font-weight="bold" font-size="100">111</text></g>
<g transform="translate(1510.43 348.88) rotate(-90) scale(0.7650 0.7400)"><text class="serif" font-weight="bold" font-size="100">200</text></g>
<g transform="translate(1601.55 350.91) rotate(-90) scale(0.7650 0.7400)"><text class="serif" font-weight="bold" font-size="100">112</text></g>
<g transform="translate(1751.68 349.04) rotate(-90) scale(0.7650 0.7400)"><text class="serif" font-weight="bold" font-size="100">103</text></g>
<g transform="translate(1904.80 344.75) rotate(-90) scale(0.7650 0.7400)"><text class="serif" font-weight="bold" font-size="100">211</text></g>
<g transform="translate(2080.23 344.24) rotate(-90) scale(0.7650 0.7400)"><text class="serif" font-weight="bold" font-size="100">113</text></g>
<g transform="translate(2328.35 357.88) rotate(-90) scale(0.7650 0.7400)"><text class="serif" font-weight="bold" font-size="100">212</text></g>
<g transform="translate(2388.68 360.17) rotate(-90) scale(0.7650 0.7400)"><text class="serif" font-weight="bold" font-size="100">104</text></g>
<g transform="translate(781.68 570.40) rotate(-90) scale(0.7650 0.7400)"><text class="serif" font-weight="bold" font-size="100">100</text></g>
<g transform="translate(1029.43 570.27) rotate(-90) scale(0.7650 0.7400)"><text class="serif" font-weight="bold" font-size="100">101</text></g>
<g transform="translate(1293.68 573.74) rotate(-90) scale(0.7650 0.7400)"><text class="serif" font-weight="bold" font-size="100">110</text></g>
<g transform="translate(1378.18 574.20) rotate(-90) scale(0.7650 0.7400)"><text class="serif" font-weight="bold" font-size="100">102</text></g>
<g transform="translate(1443.42 570.16) rotate(-90) scale(0.7650 0.7400)"><text class="serif" font-weight="bold" font-size="100">111</text></g>
<g transform="translate(1503.68 572.88) rotate(-90) scale(0.7650 0.7400)"><text class="serif" font-weight="bold" font-size="100">200</text></g>
<g transform="translate(1596.05 574.61) rotate(-90) scale(0.7650 0.7400)"><text class="serif" font-weight="bold" font-size="100">112</text></g>
<g transform="translate(1744.43 574.59) rotate(-90) scale(0.7650 0.7400)"><text class="serif" font-weight="bold" font-size="100">103</text></g>
<g transform="translate(1897.80 568.80) rotate(-90) scale(0.7650 0.7400)"><text class="serif" font-weight="bold" font-size="100">211</text></g>
<g transform="translate(2073.23 567.49) rotate(-90) scale(0.7650 0.7400)"><text class="serif" font-weight="bold" font-size="100">113</text></g>
<g transform="translate(2321.25 580.88) rotate(-90) scale(0.7650 0.7400)"><text class="serif" font-weight="bold" font-size="100">212</text></g>
<g transform="translate(2381.98 584.17) rotate(-90) scale(0.7650 0.7400)"><text class="serif" font-weight="bold" font-size="100">104</text></g>
<g transform="translate(776.28 810.40) rotate(-90) scale(0.7650 0.7400)"><text class="serif" font-weight="bold" font-size="100">100</text></g>
<g transform="translate(1019.53 819.02) rotate(-90) scale(0.7650 0.7400)"><text class="serif" font-weight="bold" font-size="100">101</text></g>
<g transform="translate(1296.68 814.99) rotate(-90) scale(0.7650 0.7400)"><text class="serif" font-weight="bold" font-size="100">110</text></g>
<g transform="translate(1382.18 815.20) rotate(-90) scale(0.7650 0.7400)"><text class="serif" font-weight="bold" font-size="100">102</text></g>
<g transform="translate(1447.42 811.16) rotate(-90) scale(0.7650 0.7400)"><text class="serif" font-weight="bold" font-size="100">111</text></g>
<g transform="translate(1507.68 813.88) rotate(-90) scale(0.7650 0.7400)"><text class="serif" font-weight="bold" font-size="100">200</text></g>
<g transform="translate(1599.80 815.61) rotate(-90) scale(0.7650 0.7400)"><text class="serif" font-weight="bold" font-size="100">112</text></g>
<g transform="translate(1747.68 813.79) rotate(-90) scale(0.7650 0.7400)"><text class="serif" font-weight="bold" font-size="100">103</text></g>
<g transform="translate(1901.05 809.50) rotate(-90) scale(0.7650 0.7400)"><text class="serif" font-weight="bold" font-size="100">211</text></g>
<g transform="translate(2076.93 809.34) rotate(-90) scale(0.7650 0.7400)"><text class="serif" font-weight="bold" font-size="100">113</text></g>
<g transform="translate(2324.05 821.88) rotate(-90) scale(0.7650 0.7400)"><text class="serif" font-weight="bold" font-size="100">212</text></g>
<g transform="translate(2385.68 825.17) rotate(-90) scale(0.7650 0.7400)"><text class="serif" font-weight="bold" font-size="100">104</text></g>
<g transform="translate(781.68 1045.26) rotate(-90) scale(0.7650 0.7400)"><text class="serif" font-weight="bold" font-size="100">100</text></g>
<g transform="translate(1021.68 1046.02) rotate(-90) scale(0.7650 0.7400)"><text class="serif" font-weight="bold" font-size="100">101</text></g>
<g transform="translate(1296.68 1054.99) rotate(-90) scale(0.7650 0.7400)"><text class="serif" font-weight="bold" font-size="100">110</text></g>
<g transform="translate(1382.18 1055.20) rotate(-90) scale(0.7650 0.7400)"><text class="serif" font-weight="bold" font-size="100">102</text></g>
<g transform="translate(1447.42 1051.16) rotate(-90) scale(0.7650 0.7400)"><text class="serif" font-weight="bold" font-size="100">111</text></g>
<g transform="translate(1507.68 1053.88) rotate(-90) scale(0.7650 0.7400)"><text class="serif" font-weight="bold" font-size="100">200</text></g>
<g transform="translate(1599.80 1055.61) rotate(-90) scale(0.7650 0.7400)"><text class="serif" font-weight="bold" font-size="100">112</text></g>
<g transform="translate(1747.68 1053.79) rotate(-90) scale(0.7650 0.7400)"><text class="serif" font-weight="bold" font-size="100">103</text></g>
<g transform="translate(1901.05 1049.50) rotate(-90) scale(0.7650 0.7400)"><text class="serif" font-weight="bold" font-size="100">211</text></g>
<g transform="translate(2076.93 1049.34) rotate(-90) scale(0.7650 0.7400)"><text class="serif" font-weight="bold" font-size="100">113</text></g>
<g transform="translate(2324.05 1061.88) rotate(-90) scale(0.7650 0.7400)"><text class="serif" font-weight="bold" font-size="100">212</text></g>
<g transform="translate(2385.68 1065.17) rotate(-90) scale(0.7650 0.7400)"><text class="serif" font-weight="bold" font-size="100">104</text></g>
</svg></body></html>
